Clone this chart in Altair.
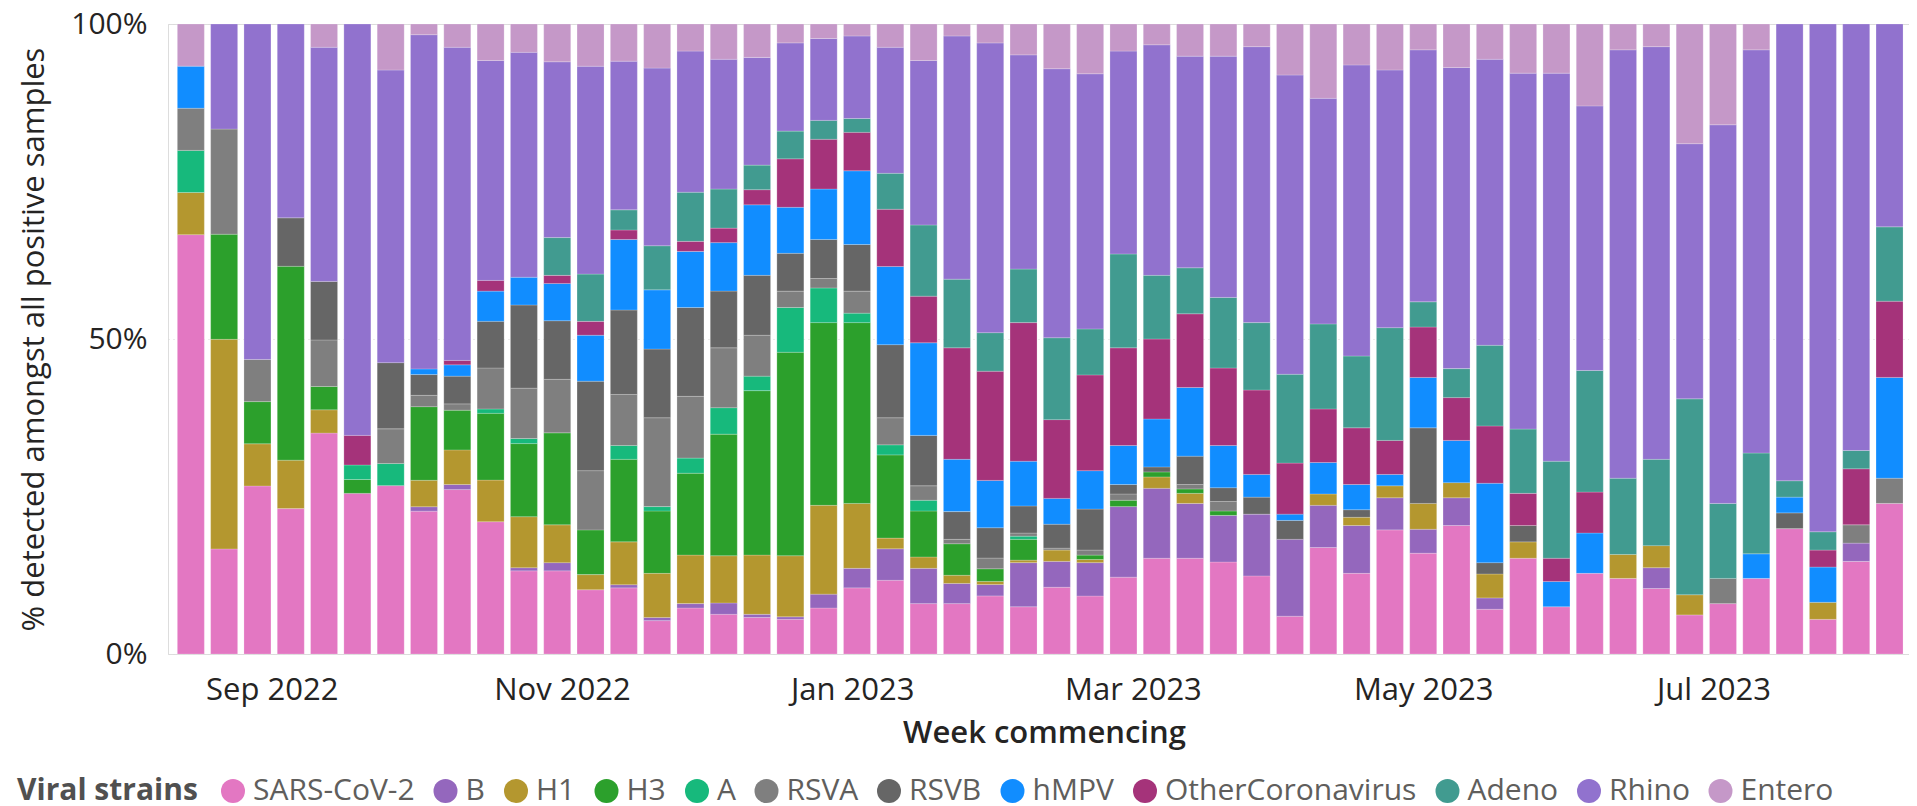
import altair as alt
import pandas as pd
from datetime import date, timedelta

strains = ["SARS-CoV-2", "B", "H1", "H3", "A", "RSVA", "RSVB", "hMPV",
           "OtherCoronavirus", "Adeno", "Rhino", "Entero"]
colors = ["#E377C2", "#9467BD", "#B4972F", "#2CA02C", "#17B97C", "#7F7F7F",
          "#666666", "#118DFF", "#A5337A", "#419B90", "#9172CE", "#C598C8"]

first_week = date(2022, 8, 15)
n_weeks = 52

# % of positive samples per week, weeks 1..52
sars = [66.7, 16.7, 26.7, 23.1, 35.1, 25.5, 26.7, 22.7, 26.1, 21.0, 13.2, 13.2, 10.2,
        10.5, 5.3, 7.3, 6.3, 5.8, 5.5, 7.3, 10.5, 11.7, 8.0, 8.0, 9.2, 7.5, 10.6, 9.2,
        12.2, 15.2, 15.2, 14.6, 12.4, 6.0, 16.9, 12.8, 19.7, 16.0, 20.4, 7.1, 15.2, 7.5,
        12.8, 12.0, 10.4, 6.2, 8.0, 12.0, 19.9, 5.5, 14.7, 23.9]
b = [0, 0, 0, 0, 0, 0, 0, 0.7, 0.8, 0, 0.5, 1.3, 0, 0.5, 0.5, 0.7, 1.8, 0.5, 0.4, 2.2,
     3.1, 5.0, 5.6, 3.2, 1.8, 7.0, 4.1, 5.3, 11.2, 11.1, 8.7, 7.4, 9.8, 12.2, 6.7, 7.6,
     5.1, 3.8, 4.4, 1.8, 0, 0, 0, 0, 3.3, 0, 0, 0, 0, 0, 2.9, 0]
h1 = [6.7, 33.3, 6.7, 7.7, 3.7, 0, 0, 4.2, 5.5, 6.6, 8.1, 6.0, 2.4, 6.8, 7.0, 7.7, 7.5,
      9.4, 9.7, 14.1, 10.3, 1.7, 1.8, 1.3, 0.5, 0.4, 1.8, 0.5, 0, 1.8, 1.6, 0, 0, 0,
      1.8, 1.3, 1.9, 4.1, 2.4, 3.8, 2.6, 0, 0, 3.8, 3.5, 3.2, 0, 0, 0, 2.7, 0, 0]
h3 = [0, 16.7, 6.7, 30.8, 3.7, 2.2, 0, 11.7, 6.3, 10.6, 11.6, 14.6, 7.1, 13.1, 9.9, 13.0,
      19.3, 26.1, 32.3, 29.0, 28.7, 13.2, 7.3, 5.0, 2.0, 3.3, 0, 0.7, 1.0, 0.8, 0.7, 0.7,
      0, 0, 0, 0, 0, 0, 0, 0, 0, 0, 0, 0, 0, 0, 0, 0, 0, 0, 0, 0]
a = [6.7, 0, 0, 0, 0, 2.3, 3.5, 0, 0, 0.7, 0.8, 0, 0, 2.2, 0.7, 2.4, 4.2, 2.3, 7.1, 5.5,
     1.5, 1.6, 1.7, 0, 0, 0.5, 0, 0, 0, 0, 0, 0, 0, 0, 0, 0, 0, 0, 0, 0, 0, 0, 0, 0, 0,
     0, 0, 0, 0, 0, 0, 0]
rsva = [6.7, 16.7, 6.7, 0, 7.4, 0, 5.5, 1.8, 1.0, 6.5, 8.0, 8.5, 9.4, 8.1, 14.1, 9.8, 9.5,
        6.5, 2.6, 1.5, 3.5, 4.3, 2.3, 0.7, 1.7, 0.5, 0.3, 0.8, 1.0, 0, 0.7, 1.5, 0, 0, 0,
        0, 0, 0, 0, 0, 0, 0, 0, 0, 0, 0, 4.0, 0, 0, 0, 2.9, 4.0]
rsvb = [0, 0, 0, 7.7, 9.3, 0, 10.5, 3.3, 4.4, 7.4, 13.2, 9.3, 14.2, 13.4, 10.9, 14.1, 9.0,
        9.5, 6.0, 6.2, 7.4, 11.6, 8.0, 4.4, 4.8, 4.3, 3.8, 6.5, 1.5, 0.8, 4.5, 2.2, 2.7,
        3.0, 0, 1.2, 0, 12.0, 0, 1.8, 2.6, 0, 0, 0, 0, 0, 0, 0, 2.5, 0, 0, 0]
hmpv = [6.7, 0, 0, 0, 0, 0, 0, 0.9, 1.8, 4.8, 4.4, 5.9, 7.3, 11.2, 9.4, 8.9, 7.7, 11.2,
        7.3, 8.0, 11.7, 12.4, 14.7, 8.3, 7.5, 7.1, 4.1, 6.1, 6.2, 7.6, 10.9, 6.7, 3.6, 1.0,
        5.0, 4.0, 1.8, 8.0, 6.7, 12.6, 0, 4.0, 6.4, 0, 0, 0, 0, 3.9, 2.5, 5.6, 0, 16.0]
othercov = [0, 0, 0, 0, 0, 4.7, 0, 0, 0.7, 1.7, 0, 1.3, 2.2, 1.5, 0, 1.6, 2.3, 2.4, 7.7,
            7.9, 6.1, 9.1, 7.4, 17.7, 17.3, 22.0, 12.5, 15.2, 15.5, 12.7, 11.7, 12.3, 13.4,
            8.1, 8.5, 9.0, 5.4, 8.0, 6.8, 9.1, 5.1, 3.7, 6.5, 0, 0, 0, 0, 0, 0, 2.7, 8.9, 12.1]
adeno = [0, 0, 0, 0, 0, 0, 0, 0, 0, 0, 0, 6.0, 7.5, 3.2, 7.0, 7.8, 6.2, 3.9, 4.4, 3.0, 2.2,
         5.7, 11.3, 10.9, 6.1, 8.5, 13.0, 7.3, 14.9, 10.1, 7.3, 11.2, 10.7, 14.1, 13.5, 11.4,
         17.9, 4.0, 4.6, 12.8, 10.2, 15.4, 19.3, 12.1, 13.7, 31.1, 11.9, 16.0, 2.6, 2.9, 2.9,
         11.8]
rhino = [0, 16.7, 53.3, 30.8, 37.2, 65.3, 46.4, 53.1, 49.7, 34.9, 35.7, 27.9, 33.0, 23.6,
         28.2, 22.4, 20.6, 17.1, 14.0, 13.0, 13.1, 20.0, 26.1, 38.6, 45.9, 34.0, 42.7, 40.5,
         32.2, 36.6, 33.6, 38.3, 43.8, 47.5, 35.8, 46.2, 40.9, 40.0, 47.8, 45.4, 56.5, 61.6,
         42.0, 68.0, 65.5, 40.5, 60.1, 64.0, 72.5, 80.6, 67.7, 32.2]
entero = [6.7, 0, 0, 0, 3.7, 0, 7.3, 1.7, 3.7, 5.8, 4.5, 6.0, 6.7, 5.9, 7.0, 4.3, 5.6, 5.3,
          3.0, 2.3, 1.9, 3.7, 5.8, 1.9, 3.0, 4.9, 7.1, 7.9, 4.3, 3.3, 5.1, 5.1, 3.6, 8.1,
          11.8, 6.5, 7.3, 4.1, 6.9, 5.6, 7.8, 7.8, 13.0, 4.1, 3.6, 19.0, 16.0, 4.1, 0, 0, 0, 0]

series = [sars, b, h1, h3, a, rsva, rsvb, hmpv, othercov, adeno, rhino, entero]

rows = []
for i in range(n_weeks):
    wk = (first_week + timedelta(days=7 * i)).isoformat()
    for k, (name, vals) in enumerate(zip(strains, series)):
        if vals[i] > 0:
            rows.append({"week": wk, "strain": name, "order": k, "pct": vals[i]})
df = pd.DataFrame(rows)

FONT = "Open Sans"
TXT = "#252423"

x_ticks = [alt.DateTime(year=2022, month=9, date=1, utc=True),
           alt.DateTime(year=2022, month=11, date=1, utc=True),
           alt.DateTime(year=2023, month=1, date=1, utc=True),
           alt.DateTime(year=2023, month=3, date=1, utc=True),
           alt.DateTime(year=2023, month=5, date=1, utc=True),
           alt.DateTime(year=2023, month=7, date=1, utc=True)]

chart = alt.Chart(df).mark_bar(size=27, stroke="#ffffff", strokeWidth=0.6, strokeOpacity=0.35).encode(
    x=alt.X("week:T",
            scale=alt.Scale(type="utc",
                            domain=[alt.DateTime(year=2022, month=8, date=11, hours=6, utc=True),
                                    alt.DateTime(year=2023, month=8, date=10, hours=1, utc=True)]),
            axis=alt.Axis(values=x_ticks, format="%b %Y", title="Week commencing",
                          domain=False, ticks=False, grid=False,
                          labelFontSize=31, labelColor=TXT, labelPadding=21,
                          labelFont=FONT, labelFlush=False,
                          titleFont=FONT, titleFontSize=31, titleFontWeight=600,
                          titleColor=TXT, titleX=876, titleY=88,
                          titleAlign="center", titleBaseline="alphabetic")),
    y=alt.Y("pct:Q", stack="normalize",
            scale=alt.Scale(domain=[0, 1], nice=False),
            axis=alt.Axis(values=[0, 0.5, 1], format="%",
                          title="% detected amongst all positive samples",
                          domain=False, ticks=False, grid=True,
                          gridColor="#d9d9d9", gridDash=[1, 4], gridWidth=1,
                          labelFontSize=30, labelColor=TXT, labelPadding=21,
                          labelFont=FONT,
                          titleFont=FONT, titleFontSize=31, titleFontWeight="normal",
                          titleColor=TXT, titleX=-134, titleY=315, titleAngle=270,
                          titleAlign="center", titleBaseline="middle")),
    color=alt.Color("strain:N",
                    scale=alt.Scale(domain=strains, range=colors),
                    legend=alt.Legend(title="Viral strains", orient="none",
                                      legendX=-151, legendY=752,
                                      direction="horizontal", titleOrient="left",
                                      symbolType="circle", symbolSize=576,
                                      symbolStrokeWidth=0, symbolOpacity=1,
                                      labelFont=FONT, labelFontSize=30,
                                      labelColor="#605E5C", labelOffset=5, labelLimit=0,
                                      titleFont=FONT, titleFontSize=30, titleLimit=0,
                                      titleFontWeight="bold", titleColor="#505050",
                                      titlePadding=20, columnPadding=15.5)),
    order=alt.Order("order:Q", sort="ascending"),
).properties(
    width=1741, height=630,
    autosize=alt.AutoSizeParams(type="none"),
    padding={"left": 160, "top": 16, "right": 0, "bottom": 175},
).configure_view(stroke=None).configure(font=FONT)

chart.save("out.html", embed_options={"renderer": "svg", "actions": False})
